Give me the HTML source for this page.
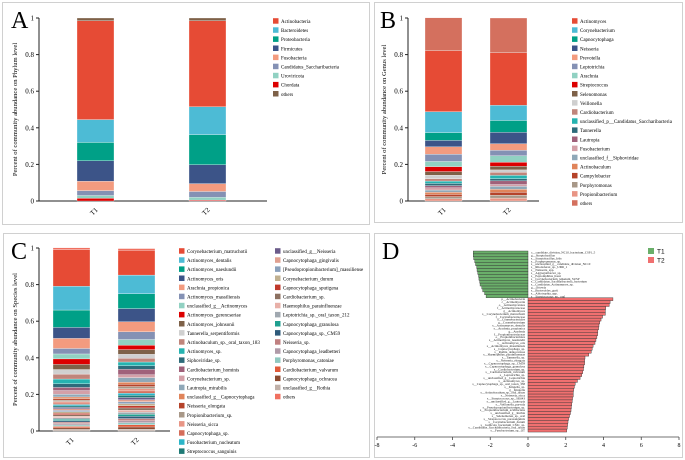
<!DOCTYPE html>
<html><head><meta charset="utf-8"><style>
body{margin:0;background:#fff}
svg{display:block;font-family:"Liberation Serif",serif}
</style></head><body>
<svg id="fig" width="685" height="460" viewBox="0 0 685 460">
<rect x="0" y="0" width="685" height="460" fill="#fff"/>
<rect x="2.5" y="2.5" width="367" height="222" fill="none" stroke="#d0d0d0"/>
<rect x="374.5" y="2.5" width="308" height="220" fill="none" stroke="#d0d0d0"/>
<rect x="3.5" y="233.5" width="366" height="224" fill="none" stroke="#d0d0d0"/>
<rect x="374.5" y="233.5" width="308" height="224" fill="none" stroke="#d0d0d0"/>
<text x="11" y="28" font-size="24">A</text>
<text x="380" y="28" font-size="24">B</text>
<text x="11" y="259" font-size="24">C</text>
<text x="382" y="259" font-size="24">D</text>
</svg>
<script>
// ---------- Panel A data ----------
const aNames=["Actinobacteria","Bacteroidetes","Proteobacteria","Firmicutes","Fusobacteria","Candidatus_Saccharibacteria","Uroviricota","Chordata","others"];
const aColors=["#e64b35","#4dbbd5","#00a087","#3c5488","#f39b7f","#8491b4","#91d1c2","#dc0000","#7e6148"];
const aT1=[0.54,0.125,0.10,0.112,0.051,0.027,0.015,0.015,0.015];
const aT2=[0.47,0.152,0.165,0.103,0.043,0.032,0.015,0.005,0.015];
// ---------- Panel B data ----------
const bNames=["Actinomyces","Corynebacterium","Capnocytophaga","Neisseria","Prevotella","Leptotrichia","Arachnia","Streptococcus","Selenomonas","Veillonella","Cardiobacterium","unclassified_p__Candidatus_Saccharibacteria","Tannerella","Lautropia","Fusobacterium","unclassified_f__Siphoviridae","Actinobaculum","Campylobacter","Porphyromonas","Propionibacterium","others"];
const bColors=["#e64b35","#4dbbd5","#00a087","#3c5488","#f39b7f","#8491b4","#91d1c2","#dc0000","#7e6148","#cfcfcf","#c0857b","#26b3b0","#2e6b7a","#a0617a","#d4a0a8","#8fa8b8","#e0845a","#b5432a","#a89888","#e89585","#d4705e"];
const bT1=[0.333,0.114,0.043,0.035,0.04,0.04,0.028,0.027,0.02,0.02,0.012,0.013,0.012,0.012,0.012,0.012,0.012,0.012,0.012,0.012,0.18];
const bT2=[0.287,0.083,0.065,0.062,0.036,0.03,0.035,0.022,0.02,0.013,0.017,0.018,0.012,0.02,0.01,0.016,0.016,0.016,0.016,0.016,0.19];
// ---------- Panel C data ----------
const cNames=["Corynebacterium_matruchotii","Actinomyces_dentalis","Actinomyces_naeslundii","Actinomyces_oris","Arachnia_propionica","Actinomyces_massiliensis","unclassified_g__Actinomyces","Actinomyces_gerencseriae","Actinomyces_johnsonii","Tannerella_serpentiformis","Actinobaculum_sp._oral_taxon_183","Actinomyces_sp.","Siphoviridae_sp.","Cardiobacterium_hominis","Corynebacterium_sp.","Lautropia_mirabilis","unclassified_g__Capnocytophaga","Neisseria_elongata","Propionibacterium_sp.","Neisseria_sicca","Capnocytophaga_sp.","Fusobacterium_nucleatum","Streptococcus_sanguinis","unclassified_g__Neisseria","Capnocytophaga_gingivalis","[Pseudopropionibacterium]_massiliense","Corynebacterium_durum","Capnocytophaga_sputigena","Cardiobacterium_sp.","Haemophilus_parainfluenzae","Leptotrichia_sp._oral_taxon_212","Capnocytophaga_granulosa","Capnocytophaga_sp._CM59","Neisseria_sp.","Capnocytophaga_leadbetteri","Porphyromonas_catoniae","Cardiobacterium_valvarum","Capnocytophaga_ochracea","unclassified_g__Rothia","others"];
const cColors=["#e64b35","#4dbbd5","#00a087","#3c5488","#f39b7f","#8491b4","#91d1c2","#dc0000","#7e6148","#d0d0d0","#c0857b","#26b3b0","#2e6b7a","#a0617a","#d4a0a8","#8fa8b8","#e0845a","#b5432a","#a89888","#e89585","#d56d5a","#2bb5c8","#1f7a76","#6b5b8a","#e0a090","#8aa0bb","#c0b090","#c0392b","#8c7060","#e8b0a8","#a0a8b0","#20a090","#2e5a7a","#c08080","#b09aa8","#90c8c0","#e05a3a","#8b4a30","#c0b0a8","#f07060"];
const cT1=[0.20,0.13,0.095,0.06,0.055,0.03,0.027,0.03,0.028,0.025,0.027,0.026,0.02,0.017,0.02,0.015,0.009,0.008,0.008,0.008,0.008,0.008,0.008,0.008,0.008,0.008,0.008,0.008,0.008,0.008,0.008,0.008,0.008,0.008,0.008,0.008,0.008,0.008,0.009,0.01];
const cT2=[0.135,0.102,0.081,0.072,0.055,0.042,0.031,0.024,0.026,0.022,0.02,0.02,0.02,0.03,0.015,0.025,0.012,0.012,0.012,0.012,0.012,0.012,0.012,0.012,0.011,0.011,0.011,0.012,0.012,0.011,0.011,0.012,0.012,0.012,0.011,0.011,0.012,0.012,0.01,0.01];
// ---------- Panel D data ----------
const dT1Names=["c__candidate_division_NC10_bacterium_CSP1_5","g__Streptobacillus","s__Streptobacillus_felis","s__Porphyromonas_sp.","s__unclassified_g__candidate_division_NC10","s__Rhodoferax_sp._UM6_1","s__Neisseria_spp.","s__Aggregatibacter_sp.","s__Peptoniphilus_harei","s__Corynebacterium_jeikeium_SUSP","s__Candidatus_Saccharibacteria_bacterium","s__Candidatus_Actinomyces_sp.","g__Ottowia","s__Bacteroides_gorii","s__Abiotrophia_spp.","s__Streptococcus_sp._oral"];
const dT1Vals=[-2.9,-2.9,-2.88,-2.82,-2.78,-2.72,-2.7,-2.66,-2.62,-2.6,-2.56,-2.54,-2.45,-2.4,-2.3,-2.22];
const dT2Names=["p__Actinobacteria","c__Actinomycetia","o__Actinomycetales","f__Actinomycetaceae","g__Actinomyces","s__Corynebacterium_matruchotii","f__Corynebacteriaceae","o__Corynebacteriales","g__Corynebacterium","s__Actinomyces_dentalis","s__Arachnia_propionica","g__Arachnia","f__Propionibacteriaceae","o__Propionibacteriales","s__Actinomyces_naeslundii","s__Actinomyces_oris","s__Actinomyces_massiliensis","s__Capnocytophaga_sp.","s__Rothia_dentocariosa","s__Haemophilus_parainfluenzae","s__Tannerella_sp.","s__Neisseria_elongata","s__Capnocytophaga_sp._CM59","s__Capnocytophaga_granulosa","s__Cardiobacterium_sp.","s__Cardiobacterium_valvarum","s__Leptotrichia_sp.","s__unclassified_g__Leptotrichia","s__Actinomyces_sp.","s__Capnocytophaga_sp._oral_taxon_338","s__Kingella_sp.","g__Kingella","s__Actinobaculum_sp._oral_taxon","s__Neisseria_sicca","s__Streptococcus_sp._SK643","s__unclassified_g__Lautropia","s__Veillonella_parvula","s__Pseudopropionibacterium_sp.","s__Propionibacterium_acidifaciens","s__unclassified_g__Rothia","s__Selenomonas_sp._oral","s__Streptococcus_parasanguinis","s__Corynebacterium_durum","s__Gallicola_bacterium_CS61_sp.","s__Candidatus_Saccharibacteria_oral_taxon","s__Fusobacterium_sp._OT"];
const dT2Vals=[4.5,4.35,4.3,4.12,4.1,4.1,3.95,3.87,3.8,3.76,3.74,3.7,3.69,3.65,3.6,3.55,3.45,3.4,3.35,3.22,3.02,3.0,3.0,2.96,2.94,2.9,2.85,2.76,2.62,2.5,2.46,2.42,2.4,2.4,2.36,2.34,2.32,2.3,2.28,2.25,2.2,2.15,2.12,2.1,2.08,2.05];
const dTicks=[-8,-6,-4,-2,0,2,4,6,8];
const yTicks=[0,0.2,0.4,0.6,0.8,1];
const groups=["T1","T2"];

const NS="http://www.w3.org/2000/svg";
const svg=document.getElementById('fig');
function mk(tag,attrs,parent,txt){const e=document.createElementNS(NS,tag);for(const k in attrs)e.setAttribute(k,attrs[k]);if(txt!==undefined)e.textContent=txt;(parent||svg).appendChild(e);return e;}

function stackPanel(p){
  const g=mk('g',{});
  
  
  const y=v=>p.y0-(p.y0-p.y1)*v;
  // axes
  const ya=mk('line',{x1:p.ax,y1:p.y1,x2:p.ax,y2:p.y0,stroke:'#222','stroke-width':1},g);
  
  
  const xa=mk('line',{x1:p.ax,y1:p.y0,x2:p.axEnd,y2:p.y0,stroke:'#222','stroke-width':1},g);
  
  
  yTicks.forEach(t=>{
    mk('line',{x1:p.ax-3,y1:y(t),x2:p.ax,y2:y(t),stroke:'#222'},g);
    const tl=mk('text',{x:p.ax-5,y:y(t)+2.5,'font-size':7,'text-anchor':'end'},g,String(t));
    
    
  });
  const cy=(p.y0+p.y1)/2;
  const yt=mk('text',{x:p.ax-22,y:cy,'font-size':6.6,'text-anchor':'middle',transform:`rotate(-90 ${p.ax-22} ${cy})`},g,p.title);
  
  
  const n=p.names.length;
  [p.s1,p.s2].forEach((s,gi)=>{
    const bx=p.bx[gi];
    let cum=0;
    const order=[];for(let i=n-2;i>=0;i--)order.push(i);order.push(n-1);
    order.forEach(i=>{
      const r=mk('rect',{x:bx,y:y(cum+s[i]),width:p.bw,height:Math.max(0,y(cum)-y(cum+s[i])),fill:p.colors[i],stroke:'#fff','stroke-width':0.3},g);
      
      
      cum+=s[i];
    });
    const cx=bx+p.bw/2, ly=p.y0+12;
    const xl=mk('text',{x:cx,y:ly,'font-size':7,'text-anchor':'middle',transform:`rotate(-45 ${cx} ${ly})`},g,groups[gi]);
    
    
  });
  p.names.forEach((nm,i)=>{
    const col=Math.floor(i/p.perCol), row=i%p.perCol;
    const lx=p.lx+col*p.colW, ly=p.ly+row*p.lsp;
    const sw=mk('rect',{x:lx,y:ly-2.8,width:5.5,height:5.5,fill:p.colors[i]},g);
    
    
    const lt=mk('text',{x:lx+8,y:ly+2,'font-size':p.lfs},g,nm);
    
    
  });
}
stackPanel({key:'phylum',names:aNames,colors:aColors,s1:aT1,s2:aT2,ax:39,axEnd:267,y0:201,y1:18,bx:[77,189],bw:37,title:'Percent of community abundance on Phylum level',lx:273,ly:21,lsp:9.1,perCol:30,colW:0,lfs:5});
stackPanel({key:'genus',names:bNames,colors:bColors,s1:bT1,s2:bT2,ax:408,axEnd:539,y0:201,y1:18,bx:[425,490],bw:37,title:'Percent of community abundance on Genus level',lx:572,ly:21,lsp:9.1,perCol:30,colW:0,lfs:5});
stackPanel({key:'species',names:cNames,colors:cColors,s1:cT1,s2:cT2,ax:39,axEnd:170,y0:431,y1:248,bx:[53,118],bw:37,title:'Percent of community abundance on Species level',lx:179,ly:251,lsp:9.1,perCol:23,colW:96,lfs:5});

// ---------- Panel D ----------
(function(){
  const g=mk('g',{});
  
  
  const x=v=>528+v*18.875;
  const top=251, bh=2.92;
  const all=dT1Vals.concat(dT2Vals), names=dT1Names.concat(dT2Names);
  all.forEach((v,i)=>{
    const yy=top+i*bh;
    const r=mk('rect',{x:Math.min(x(0),x(v)),y:yy,width:Math.abs(x(v)-x(0)),height:bh,fill:v<0?'#6aaf6a':'#f07070',stroke:'#333','stroke-width':0.4},g);
    
    
    const t=mk('text',{x:v<0?x(0)+3:x(0)-3,y:yy+bh-0.4,'font-size':3.2,'text-anchor':v<0?'start':'end',fill:'#222'},g,names[i]);
    
    
  });
  const ax=mk('line',{x1:x(-8),y1:437,x2:x(8),y2:437,stroke:'#444','stroke-width':0.8},g);
  
  
  dTicks.forEach(t=>{
    mk('line',{x1:x(t),y1:437,x2:x(t),y2:440,stroke:'#444','stroke-width':0.8},g);
    const tl=mk('text',{x:x(t),y:447,'font-size':6,'text-anchor':'middle'},g,String(t));
    
    
  });
  [['T1','#6aaf6a',251],['T2','#f07070',260]].forEach(([lab,c,yy])=>{
    const s=mk('rect',{x:648,y:yy-3,width:6,height:6,fill:c},g);
    
    
    const t=mk('text',{x:657,y:yy+2.5,'font-size':6.5,'font-family':'Liberation Sans, sans-serif'},g,lab);
    
    
  });
})();
</script>
</body></html>
